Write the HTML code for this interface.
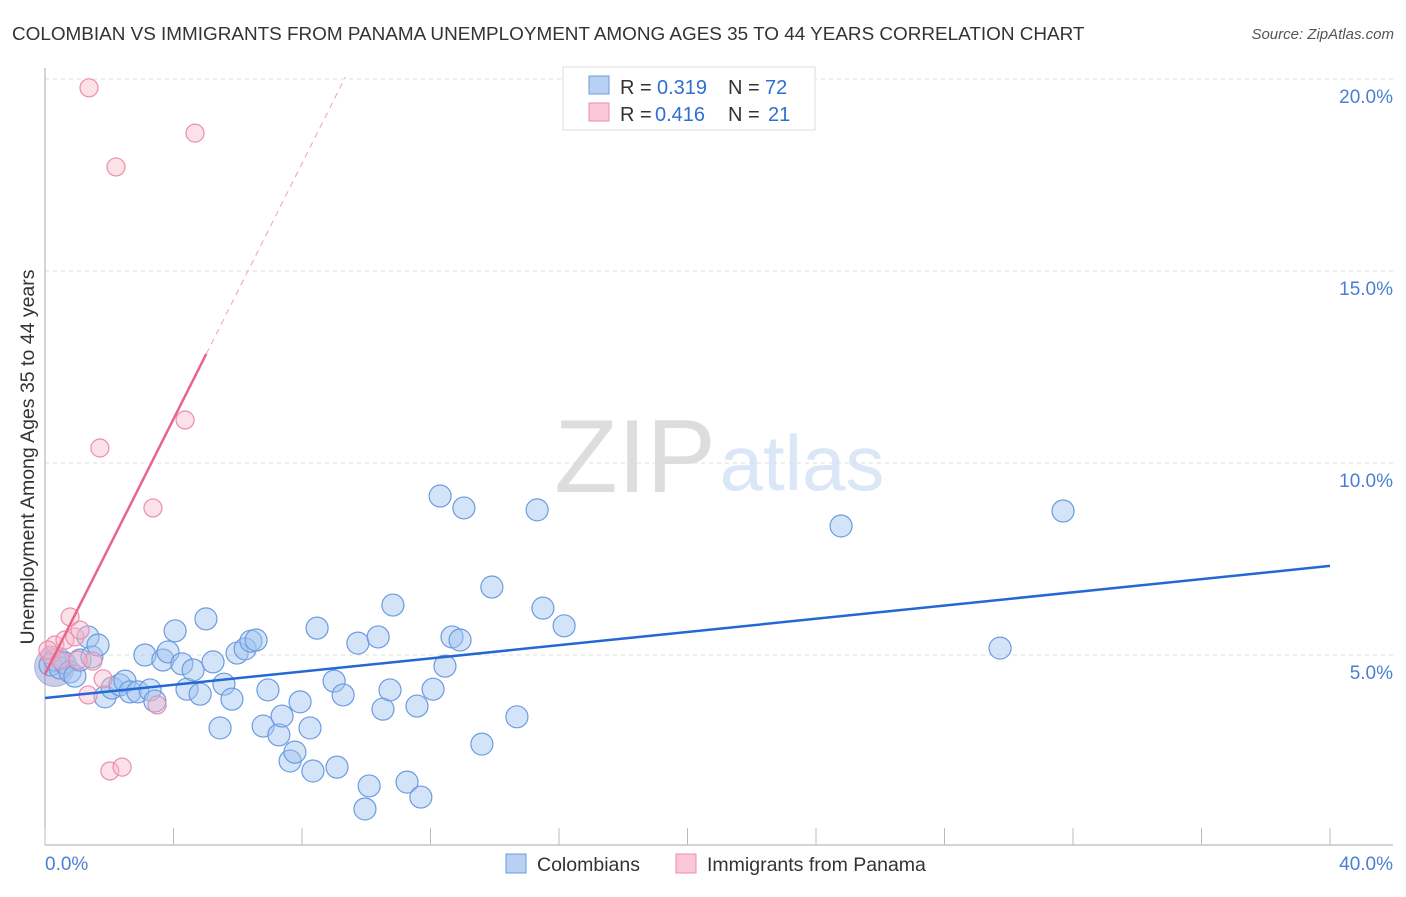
<!DOCTYPE html>
<html><head><meta charset="utf-8"><style>
body{margin:0;background:#fff;font-family:"Liberation Sans",sans-serif;}
svg text{font-family:"Liberation Sans",sans-serif;}
</style></head><body>
<svg id="chart" width="1406" height="892" xmlns="http://www.w3.org/2000/svg">
<text x="12" y="40" font-size="18.9" fill="#333">COLOMBIAN VS IMMIGRANTS FROM PANAMA UNEMPLOYMENT AMONG AGES 35 TO 44 YEARS CORRELATION CHART</text>
<text x="1394" y="39" font-size="15" fill="#555" font-style="italic" text-anchor="end">Source: ZipAtlas.com</text>
<g>
<text x="635" y="492" font-size="104" fill="#ddd" font-family="Liberation Serif" text-anchor="middle">ZIP</text>
<text x="802" y="490" font-size="78" fill="#dbe6f6" text-anchor="middle">atlas</text>
</g>
<g id="grid"></g><g id="axes"></g><g id="pts"></g><g id="lines"></g>
<text transform="translate(34,457) rotate(-90)" font-size="19.5" fill="#333" text-anchor="middle">Unemployment Among Ages 35 to 44 years</text>
<g>
<rect x="563" y="67" width="252" height="63" fill="#fff" stroke="#ddd"/>
<rect x="589" y="76" width="20" height="18" fill="#b8d1f3" stroke="#6d9be0"/>
<rect x="589" y="103" width="20" height="18" fill="#f9c7d5" stroke="#ea8fab"/>
<text x="620" y="94" font-size="20" fill="#333">R =</text>
<text x="657" y="94" font-size="20" fill="#2f6fd0">0.319</text>
<text x="728" y="94" font-size="20" fill="#333">N =</text>
<text x="765" y="94" font-size="20" fill="#2f6fd0">72</text>
<text x="620" y="121" font-size="20" fill="#333">R =</text>
<text x="655" y="121" font-size="20" fill="#2f6fd0">0.416</text>
<text x="728" y="121" font-size="20" fill="#333">N =</text>
<text x="768" y="121" font-size="20" fill="#2f6fd0">21</text>
</g>
<g>
<rect x="506" y="854" width="20" height="19" fill="#b8d1f3" stroke="#6d9be0"/>
<text x="537" y="871" font-size="19.5" fill="#333">Colombians</text>
<rect x="676" y="854" width="20" height="19" fill="#f9c7d5" stroke="#ea8fab"/>
<text x="707" y="871" font-size="19.5" fill="#333">Immigrants from Panama</text>
</g>
</svg>
<script>
const blueX=[0.16,0.31,0.47,0.62,0.78,0.93,1.09,1.34,1.46,1.65,1.87,2.09,2.33,2.49,2.65,2.89,3.11,3.27,3.42,3.67,3.83,4.05,4.26,4.42,4.61,4.83,5.01,5.23,5.45,5.57,5.82,5.98,6.23,6.41,6.57,6.79,6.94,7.28,7.38,7.63,7.78,7.94,8.25,8.34,8.47,9.00,9.09,9.28,9.74,9.96,10.09,10.37,10.52,10.74,10.83,11.27,11.58,11.70,12.08,12.30,12.45,12.67,12.92,13.04,13.60,13.91,14.69,15.32,15.50,16.16,24.78,29.73,31.69];
const blueY=[4.74,4.87,4.66,4.79,4.56,4.45,4.87,5.47,4.95,5.26,3.91,4.14,4.22,4.32,4.04,4.04,5.00,4.09,3.80,4.87,5.08,5.63,4.77,4.11,4.61,3.98,5.94,4.82,3.10,4.24,3.85,5.05,5.16,5.36,5.39,3.15,4.09,2.92,3.41,2.24,2.47,3.78,3.10,1.98,5.70,4.32,2.08,3.96,5.31,0.99,1.59,5.47,3.59,4.09,6.30,1.69,3.67,1.30,4.11,9.14,4.71,5.47,5.39,8.83,2.68,6.77,3.39,8.78,6.22,5.76,8.36,5.18,8.75];
const pinkX=[0.16,0.31,0.47,0.62,0.78,0.93,1.09,1.34,1.49,1.71,1.81,2.02,2.21,2.40,3.36,3.49,4.36,4.67,1.37,0.09,1.03];
const pinkY=[5.00,5.26,4.87,5.39,5.99,5.47,5.65,3.96,4.84,10.39,4.38,1.98,17.71,2.08,8.83,3.70,11.12,18.59,19.77,5.13,4.87];
const yTicks=[5,10,15,20];
const yTickLabels=["5.0%","10.0%","15.0%","20.0%"];
const blueLine=[[0,3.88],[40,7.32]];
const pinkLineSolid=[[0,4.5],[5.02,12.84]];
const pinkLineDash=[[5.02,12.84],[9.35,20.05]];
const NS="http://www.w3.org/2000/svg";
const sx=v=>45+v*1285/40, sy=v=>847-v*38.4;
function mk(tag,attrs,parent){const e=document.createElementNS(NS,tag);for(const k in attrs)e.setAttribute(k,attrs[k]);document.getElementById(parent).appendChild(e);return e;}
yTicks.forEach((t,i)=>{
 const g=mk('line',{x1:45,x2:1393,y1:sy(t),y2:sy(t),stroke:'#ddd','stroke-dasharray':'4,4'},'grid');
 
 
 const l=mk('text',{x:1393,y:sy(t)+24,'font-size':19,fill:'#4a7fd4','text-anchor':'end'},'grid');
 l.textContent=yTickLabels[i];
 
 
});
const ax=mk('line',{x1:45,x2:45,y1:68,y2:845,stroke:'#aaa'},'axes');


const bx=mk('line',{x1:45,x2:1393,y1:845,y2:845,stroke:'#aaa'},'axes');


for(let i=0;i<=10;i++){const t=mk('line',{x1:sx(i*4),x2:sx(i*4),y1:828,y2:845,stroke:'#bbb'},'axes');
 
 }
const x0=mk('text',{x:45,y:870,'font-size':19,fill:'#4a7fd4'},'axes');x0.textContent='0.0%';


const x1=mk('text',{x:1393,y:870,'font-size':19,fill:'#4a7fd4','text-anchor':'end'},'axes');x1.textContent='40.0%';


const big=mk('circle',{cx:sx(0.3),cy:sy(4.7),r:20,fill:'rgba(120,110,190,0.35)',stroke:'rgba(110,150,220,0.6)'},'pts');


blueX.forEach((x,i)=>{const c=mk('circle',{cx:sx(x),cy:sy(blueY[i]),r:11,fill:'rgba(160,195,240,0.45)',stroke:'#6d9be0','stroke-width':1.2},'pts');
 
 });
pinkX.forEach((x,i)=>{const c=mk('circle',{cx:sx(x),cy:sy(pinkY[i]),r:9,fill:'rgba(248,180,200,0.4)',stroke:'#ea8fab','stroke-width':1.2},'pts');
 
 });
const bl=mk('line',{x1:sx(blueLine[0][0]),y1:sy(blueLine[0][1]),x2:sx(blueLine[1][0]),y2:sy(blueLine[1][1]),stroke:'#2468d4','stroke-width':2.5},'lines');


const pl=mk('line',{x1:sx(pinkLineSolid[0][0]),y1:sy(pinkLineSolid[0][1]),x2:sx(pinkLineSolid[1][0]),y2:sy(pinkLineSolid[1][1]),stroke:'#e8648f','stroke-width':2.5},'lines');


const pd=mk('line',{x1:sx(pinkLineDash[0][0]),y1:sy(pinkLineDash[0][1]),x2:sx(pinkLineDash[1][0]),y2:sy(pinkLineDash[1][1]),stroke:'#eea0b8','stroke-width':1,'stroke-dasharray':'6,5'},'lines');


</script>
</body></html>
